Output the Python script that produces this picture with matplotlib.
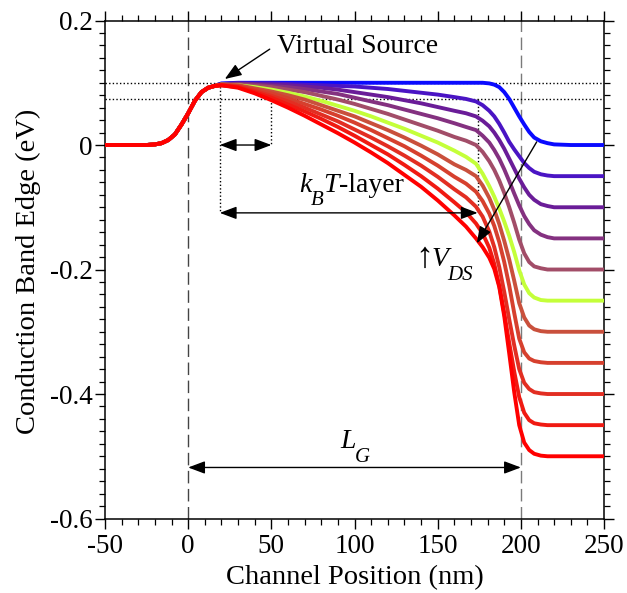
import matplotlib
matplotlib.use("Agg")
import matplotlib.pyplot as plt
from matplotlib.ticker import MultipleLocator
from matplotlib.patches import FancyArrowPatch

plt.rcParams['font.family'] = ['Liberation Serif', 'DejaVu Serif']

# drain bias for each curve (V)
vds = [0.0, 0.05, 0.10, 0.15, 0.20, 0.25, 0.30, 0.35, 0.40, 0.45, 0.50]
colors = ['#0a0aff', '#4a14c4', '#6a1c98', '#843180', '#a24d68', '#c4ff3a',
          '#c9503c', '#d6402e', '#e22e22', '#f01a12', '#ff0000']

# source side, same for all curves
x_src = [-50, -25, -20, -16, -12, -8, -4, 0, 4, 8, 12, 16]
y_src = [0.0, 0.0, 0.001, 0.003, 0.008, 0.017, 0.033, 0.051, 0.071, 0.085, 0.092, 0.095]

# channel + drain side
x_ch = [20, 30, 40, 50, 60, 70, 80, 90, 100, 110, 120, 130, 140, 150, 160, 167,
        173, 177, 181, 184, 187, 190, 193, 196, 199, 202, 205, 208, 212, 216, 220, 230, 250]

ec_000 = [0.099, 0.100, 0.100, 0.100, 0.100, 0.100, 0.100, 0.100, 0.100, 0.100, 0.100, 0.100, 0.100, 0.100, 0.100, 0.100,
          0.100, 0.100, 0.099, 0.097, 0.093, 0.085, 0.074, 0.060, 0.046, 0.033, 0.021, 0.012, 0.006, 0.003, 0.001, 0.000, 0.000]
ec_005 = [0.098, 0.099, 0.099, 0.099, 0.098, 0.097, 0.096, 0.095, 0.094, 0.092, 0.090, 0.087, 0.084, 0.081, 0.077, 0.074,
          0.070, 0.064, 0.055, 0.046, 0.034, 0.020, 0.005, -0.007, -0.018, -0.029, -0.037, -0.043, -0.047, -0.049, -0.050, -0.050, -0.050]
ec_010 = [0.098, 0.099, 0.098, 0.097, 0.096, 0.094, 0.092, 0.089, 0.085, 0.081, 0.077, 0.072, 0.067, 0.061, 0.055, 0.051,
          0.046, 0.039, 0.030, 0.020, 0.008, -0.006, -0.022, -0.038, -0.054, -0.068, -0.080, -0.088, -0.095, -0.098, -0.100, -0.100, -0.100]
ec_015 = [0.097, 0.098, 0.097, 0.095, 0.093, 0.090, 0.086, 0.082, 0.076, 0.070, 0.064, 0.057, 0.050, 0.043, 0.035, 0.029,
          0.024, 0.015, 0.004, -0.008, -0.022, -0.039, -0.058, -0.078, -0.097, -0.114, -0.127, -0.137, -0.144, -0.148, -0.150, -0.150, -0.150]
ec_020 = [0.097, 0.097, 0.095, 0.093, 0.089, 0.085, 0.079, 0.073, 0.066, 0.058, 0.050, 0.041, 0.032, 0.023, 0.013, 0.007,
          0.000, -0.011, -0.026, -0.040, -0.057, -0.077, -0.100, -0.125, -0.152, -0.174, -0.188, -0.195, -0.198, -0.200, -0.200, -0.200, -0.200]
ec_025 = [0.097, 0.096, 0.093, 0.089, 0.084, 0.078, 0.071, 0.063, 0.055, 0.046, 0.036, 0.026, 0.015, 0.004, -0.009, -0.019,
          -0.030, -0.046, -0.066, -0.083, -0.102, -0.123, -0.146, -0.172, -0.201, -0.224, -0.238, -0.245, -0.249, -0.250, -0.250, -0.250, -0.250]
ec_030 = [0.097, 0.096, 0.091, 0.086, 0.080, 0.073, 0.064, 0.055, 0.046, 0.035, 0.024, 0.012, -0.001, -0.015, -0.031, -0.040,
          -0.050, -0.065, -0.085, -0.104, -0.127, -0.154, -0.184, -0.218, -0.254, -0.277, -0.290, -0.296, -0.299, -0.300, -0.300, -0.300, -0.300]
ec_035 = [0.097, 0.095, 0.089, 0.083, 0.075, 0.066, 0.057, 0.047, 0.036, 0.024, 0.011, -0.002, -0.017, -0.033, -0.051, -0.062,
          -0.075, -0.090, -0.110, -0.130, -0.156, -0.188, -0.226, -0.270, -0.311, -0.333, -0.343, -0.347, -0.349, -0.350, -0.350, -0.350, -0.350]
ec_040 = [0.096, 0.094, 0.087, 0.079, 0.070, 0.060, 0.049, 0.038, 0.025, 0.012, -0.002, -0.017, -0.033, -0.051, -0.071, -0.084,
          -0.099, -0.115, -0.139, -0.164, -0.196, -0.236, -0.280, -0.322, -0.360, -0.382, -0.392, -0.397, -0.399, -0.400, -0.400, -0.400, -0.400]
ec_045 = [0.096, 0.093, 0.085, 0.076, 0.065, 0.054, 0.042, 0.029, 0.015, 0.000, -0.015, -0.032, -0.050, -0.070, -0.092, -0.108,
          -0.126, -0.142, -0.165, -0.191, -0.226, -0.270, -0.318, -0.364, -0.405, -0.430, -0.442, -0.447, -0.449, -0.450, -0.450, -0.450, -0.450]
ec_050 = [0.096, 0.092, 0.083, 0.072, 0.060, 0.047, 0.033, 0.019, 0.004, -0.012, -0.029, -0.048, -0.067, -0.089, -0.113, -0.131,
          -0.150, -0.164, -0.181, -0.199, -0.228, -0.275, -0.335, -0.397, -0.450, -0.478, -0.490, -0.496, -0.499, -0.500, -0.500, -0.500, -0.500]

curves = [ec_000, ec_005, ec_010, ec_015, ec_020, ec_025, ec_030, ec_035, ec_040, ec_045, ec_050]

xtick_vals = [-50, 0, 50, 100, 150, 200, 250]
xtick_labels = ['-50', '0', '50', '100', '150', '200', '250']
ytick_vals = [-0.6, -0.4, -0.2, 0.0, 0.2]
ytick_labels = ['-0.6', '-0.4', '-0.2', '0', '0.2']

fig = plt.figure(figsize=(6.27, 5.93), dpi=100)
ax = fig.add_axes([0.1675, 0.1256, 0.7959, 0.8398])

for ec, c in zip(curves, colors):
    ax.plot(x_src + x_ch, y_src + ec, color=c, lw=2.8, solid_joinstyle='round', zorder=3)

# gate edges
ax.axvline(0, color='#444444', lw=1, dashes=(9, 4), zorder=1)
ax.axvline(200, color='#7a7a7a', lw=1, dashes=(9, 4), zorder=1)

# barrier top and kT below it
dot = (0, (1, 1.6))
ax.axhline(0.1, color='k', lw=1, ls=dot, zorder=2)
ax.axhline(0.074, color='k', lw=1, ls=dot, zorder=2)
ax.plot([19, 19], [0.1, -0.109], color='k', lw=1, ls=dot, zorder=2)
ax.plot([50, 50], [0.074, 0.0], color='k', lw=1, ls=dot, zorder=2)
ax.plot([174, 174], [0.074, -0.109], color='k', lw=1, ls=dot, zorder=2)

def arrow(p0, p1, style):
    ax.add_patch(FancyArrowPatch(p0, p1, arrowstyle=style, mutation_scale=12,
                                 lw=1, color='k', shrinkA=0, shrinkB=0, zorder=4))

both = '<|-|>,head_length=0.85,head_width=0.32'
one = '-|>,head_length=0.85,head_width=0.32'
arrow((19, 0.0), (50, 0.0), both)
arrow((19, -0.109), (174, -0.109), both)
arrow((0, -0.518), (200, -0.518), both)
arrow((49, 0.154), (22, 0.106), one)
arrow((209.5, 0.005), (173.5, -0.158), one)

FS = 20
SUB = 15
DROP = -9

def symbol(x, y, main, sub):
    # italic symbol with a low subscript, returns the main text
    t = ax.text(x, y, main, fontsize=FS, style='italic', ha='left', va='baseline')
    s = ax.annotate(sub, xy=(1, 0), xycoords=t, xytext=(-1, DROP), textcoords='offset points',
                    fontsize=SUB, style='italic', ha='left', va='bottom')
    return t, s

ax.text(102, 0.158, 'Virtual Source', fontsize=FS, ha='center', va='center')

k, b = symbol(67, -0.075, 'k', 'B')
tt = ax.annotate('T', xy=(1, 0), xycoords=(b, k), xytext=(0, 0), textcoords='offset points',
                 fontsize=FS, style='italic', ha='left', va='bottom')
ax.annotate('-layer', xy=(1, 0), xycoords=tt, xytext=(0, 0), textcoords='offset points',
            fontsize=FS, ha='left', va='bottom')

v, ds = symbol(146.5, -0.195, 'V', 'DS')
ax.annotate('\u2191', xy=(0, 0), xycoords=v, xytext=(1, -2), textcoords='offset points',
            fontsize=26, ha='right', va='bottom')

lg, g = symbol(91.5, -0.487, 'L', 'G')

ax.set_xlim(-50, 250)
ax.set_ylim(-0.6, 0.2)
ax.set_xticks(xtick_vals)
ax.set_xticklabels(xtick_labels)
ax.set_yticks(ytick_vals)
ax.set_yticklabels(ytick_labels)
ax.xaxis.set_minor_locator(MultipleLocator(10))
ax.yaxis.set_minor_locator(MultipleLocator(0.02))
ax.tick_params(which='both', direction='out', top=True, right=True, labelsize=19.5)
ax.tick_params(which='major', length=7, width=1)
ax.tick_params(which='minor', length=4, width=0.9)
ax.tick_params(axis='x', pad=4)
ax.tick_params(axis='y', pad=2)
for s in ax.spines.values():
    s.set_linewidth(1.1)

ax.set_xlabel('Channel Position (nm)', fontsize=20.5)
ax.xaxis.set_label_coords(0.5, -0.094)
ax.xaxis.label.set_va('top')
fig.text(28 / 627, 1 - 271 / 593, 'Conduction Band Edge (eV)', fontsize=20.5,
         rotation=90, ha='center', va='center')

fig.savefig('out.png', dpi=100)
